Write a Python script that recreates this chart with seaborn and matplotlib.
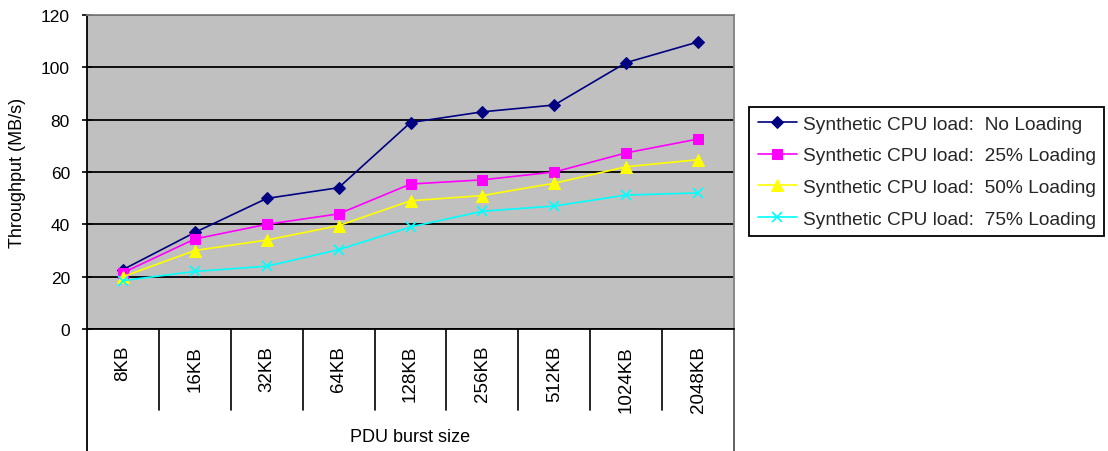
import matplotlib
matplotlib.use("Agg")
import matplotlib.pyplot as plt
import seaborn as sns

# PDU burst sizes on the category axis
burst_sizes = ["8KB", "16KB", "32KB", "64KB", "128KB", "256KB", "512KB", "1024KB", "2048KB"]

# Throughput (MB/s) for each synthetic CPU load level
no_loading = [22.7, 36.9, 49.9, 54.0, 78.9, 83.0, 85.6, 101.8, 109.7]
loading_25 = [21.5, 34.4, 40.0, 44.0, 55.4, 57.0, 60.0, 67.3, 72.6]
loading_50 = [20.0, 30.0, 34.0, 39.5, 49.0, 51.0, 55.7, 62.0, 64.7]
loading_75 = [18.5, 22.0, 24.0, 30.3, 39.0, 45.0, 47.0, 51.2, 52.0]

series_labels = [
    "Synthetic CPU load:  No Loading",
    "Synthetic CPU load:  25% Loading",
    "Synthetic CPU load:  50% Loading",
    "Synthetic CPU load:  75% Loading",
]
y_ticks = [0, 20, 40, 60, 80, 100, 120]

sns.set_theme(style="white")
plt.rcParams["font.family"] = ["Liberation Sans", "DejaVu Sans"]

W, H = 1108, 452
fig = plt.figure(figsize=(W / 100, H / 100), dpi=100)
left, right, top, bottom = 87, 734, 16, 330
ax = fig.add_axes([left / W, 1 - bottom / H, (right - left) / W, (bottom - top) / H])
ax.set_facecolor("#C0C0C0")

styles = [
    dict(color="#000080", marker="D", markersize=6),
    dict(color="#FF00FF", marker="s", markersize=7),
    dict(color="#FFFF00", marker="^", markersize=8),
    dict(color="#00FFFF", marker="x", markersize=7, markeredgewidth=1.2),
]
for values, label, st in zip([no_loading, loading_25, loading_50, loading_75], series_labels, styles):
    sns.lineplot(
        x=burst_sizes, y=values, ax=ax, sort=False, label=label,
        linewidth=1.2, markeredgecolor=st["color"], **st,
    )

ax.set_xlim(-0.5, len(burst_sizes) - 0.5)
ax.set_ylim(0, 120)
ax.set_yticks(y_ticks)
ax.set_axisbelow(True)
ax.yaxis.grid(True, color="black", linewidth=1.3)
ax.xaxis.grid(False)

# spines
for side in ["left", "bottom"]:
    ax.spines[side].set_color("black")
    ax.spines[side].set_linewidth(1.3)
for side in ["top", "right"]:
    ax.spines[side].set_color("#808080")
    ax.spines[side].set_linewidth(1.3)

ax.tick_params(axis="y", direction="inout", length=6.5, width=1.2, color="black",
               pad=9, labelsize=12.5, left=True)
ax.set_xticks(range(len(burst_sizes)))
ax.set_xticklabels(burst_sizes, rotation=90, va="top", ha="center")
ax.tick_params(axis="x", length=0, pad=11.5, labelsize=13.5, bottom=False)
for lbl in ax.get_yticklabels() + ax.get_xticklabels():
    lbl.set_color("black")

# category dividers below the plot area
xt = ax.get_xaxis_transform()
div_depth = (411 - bottom) / (bottom - top)
full_depth = (H + 2 - bottom) / (bottom - top)
for i in range(1, len(burst_sizes)):
    ax.plot([i - 0.5, i - 0.5], [0, -div_depth], transform=xt, clip_on=False,
            color="black", linewidth=1.2)
ax.plot([-0.5, -0.5], [0, -full_depth], transform=xt, clip_on=False, color="black", linewidth=1.3)
ax.plot([len(burst_sizes) - 0.5] * 2, [0, -full_depth], transform=xt, clip_on=False,
        color="#555555", linewidth=1.3)

ax.set_xlabel("PDU burst size", fontsize=13, color="black")
ax.xaxis.label.set_va("center")
ax.xaxis.set_label_coords(0.5, -(437 - bottom) / (bottom - top))
ax.set_ylabel("Throughput (MB/s)", fontsize=13, color="black")
ax.yaxis.label.set_va("center")
ax.yaxis.set_label_coords(-(left - 18) / (right - left), 0.5)

handles, labels = ax.get_legend_handles_labels()
ax.get_legend().remove()
leg = fig.legend(
    handles, labels, loc="center left", bbox_to_anchor=(749 / W, 1 - 172.5 / H),
    frameon=True, fancybox=False, edgecolor="black", facecolor="white", framealpha=1,
    fontsize=13.8, handlelength=2.06, handletextpad=0.3, labelspacing=0.74,
    borderpad=0.45, borderaxespad=0,
)
leg.get_frame().set_linewidth(1.3)

fig.savefig("out.png", dpi=100, facecolor="white")
